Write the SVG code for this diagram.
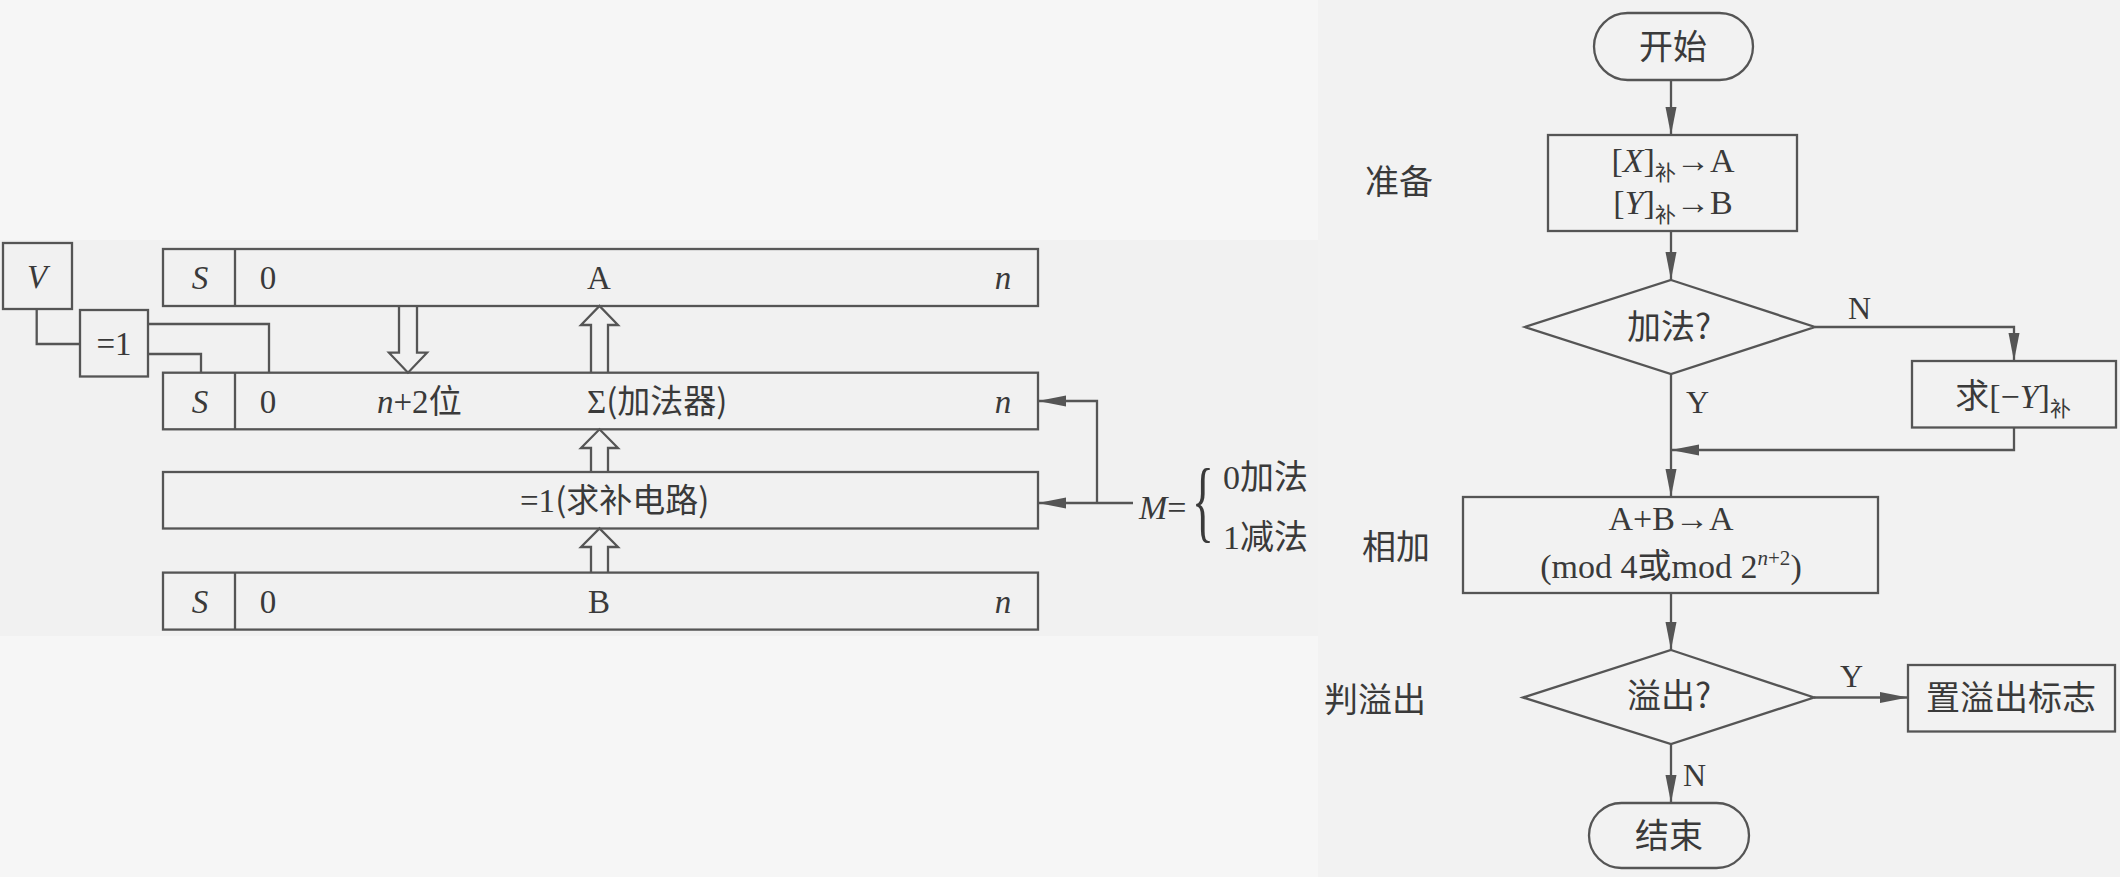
<svg xmlns="http://www.w3.org/2000/svg" width="2120" height="877" viewBox="0 0 2120 877">
<style>
.ln{fill:none;stroke:#555;stroke-width:2.3}
.bx{fill:none;stroke:#555;stroke-width:2.3}
.t{font-family:"Liberation Serif","Noto Sans CJK SC",serif;font-size:33px;fill:#3a3a3a}
.f{font-size:34px}
.c{font-family:"Noto Sans CJK SC","Liberation Sans",sans-serif;font-size:34px;fill:#3a3a3a}
.k{font-family:"Noto Sans CJK SC",sans-serif}
.i{font-style:italic}
.m{text-anchor:middle}
.sub{font-family:"Noto Sans CJK SC",sans-serif;font-size:21px}
.lb{font-size:32px}
</style>
<defs>
<marker id="ah" markerWidth="30" markerHeight="12" refX="28" refY="6" orient="auto" markerUnits="userSpaceOnUse">
<path d="M0,0.5 L28,6 L0,11.5 z" fill="#555"/>
</marker>
</defs>
<rect x="0" y="0" width="2120" height="877" fill="#f6f6f6"/>
<rect x="0" y="240" width="1318" height="396" fill="#f1f1f1"/>
<rect x="1318" y="0" width="802" height="877" fill="#f2f2f2"/>

<!-- left diagram -->
<g id="V">
<rect class="bx" x="3" y="243" width="69" height="66"/>
<text class="t i m" x="37" y="288">V</text>
</g>
<g id="xor">
<rect class="bx" x="80" y="310" width="68" height="66.5"/>
<text class="t m" x="114" y="355">=1</text>
</g>
<g id="regA">
<rect class="bx" x="163" y="249" width="875" height="57"/>
<line class="ln" x1="235" y1="249" x2="235" y2="306"/>
<text class="t i m" x="200" y="289">S</text>
<text class="t m" x="268" y="289">0</text>
<text class="t m" x="599" y="289">A</text>
<text class="t i m" x="1003" y="289">n</text>
</g>
<g id="adder">
<rect class="bx" x="163" y="372.7" width="875" height="56.6"/>
<line class="ln" x1="235" y1="372.7" x2="235" y2="429.3"/>
<text class="t i m" x="200" y="413">S</text>
<text class="t m" x="268" y="413">0</text>
<text class="t" x="377" y="413"><tspan class="i">n</tspan>+2<tspan class="k">位</tspan></text>
<text class="t" x="587" y="413">Σ<tspan class="k">(加法器)</tspan></text>
<text class="t i m" x="1003" y="413">n</text>
</g>
<g id="comp">
<rect class="bx" x="163" y="472" width="875" height="56.5"/>
<text class="t" x="520" y="512">=1<tspan class="k">(求补电路)</tspan></text>
</g>
<g id="regB">
<rect class="bx" x="163" y="572.6" width="875" height="57"/>
<line class="ln" x1="235" y1="572.6" x2="235" y2="629.6"/>
<text class="t i m" x="200" y="613">S</text>
<text class="t m" x="268" y="613">0</text>
<text class="t m" x="599" y="613">B</text>
<text class="t i m" x="1003" y="613">n</text>
</g>
<g id="Mlabel">
<text class="t f" x="1139" y="519"><tspan class="i">M</tspan>=</text>
<text class="t" transform="translate(1192,531) scale(0.5,1)" style="font-size:91px">{</text>
<text class="t f" x="1223" y="489">0<tspan class="k">加法</tspan></text>
<text class="t f" x="1223" y="549">1<tspan class="k">减法</tspan></text>
</g>

<!-- right flowchart -->
<g id="lbl1"><text class="c" x="1365" y="194">准备</text></g>
<g id="lbl2"><text class="c" x="1362" y="559">相加</text></g>
<g id="lbl3"><text class="c" x="1324" y="712">判溢出</text></g>
<g id="start">
<rect class="bx" x="1594" y="13" width="159" height="67" rx="33.5"/>
<text class="c m" x="1673" y="59">开始</text>
</g>
<g id="prep">
<rect class="bx" x="1548" y="135" width="249" height="96"/>
<text class="t f m" x="1673" y="172">[<tspan class="i">X</tspan>]<tspan class="sub" dy="8">补</tspan><tspan dy="-8">→A</tspan></text>
<text class="t f m" x="1673" y="214">[<tspan class="i">Y</tspan>]<tspan class="sub" dy="8">补</tspan><tspan dy="-8">→B</tspan></text>
</g>
<g id="isadd">
<polygon class="bx" points="1671,280 1815,327 1671,374 1525,327"/>
<text class="c m" x="1669" y="339">加法?</text>
</g>
<g id="neg">
<rect class="bx" x="1912" y="361" width="204" height="66.5"/>
<text class="t f m" x="2013" y="408"><tspan class="k">求</tspan>[−<tspan class="i">Y</tspan>]<tspan class="sub" dy="8">补</tspan></text>
</g>
<g id="add">
<rect class="bx" x="1463" y="497" width="415" height="96"/>
<text class="t f m" x="1671" y="530">A+B→A</text>
<text class="t f m" x="1671" y="578">(mod 4<tspan class="k">或</tspan>mod 2<tspan class="i" font-size="21" dy="-13">n</tspan><tspan font-size="21">+2</tspan><tspan dy="13">)</tspan></text>
</g>
<g id="isovf">
<polygon class="bx" points="1671,650 1814,697.5 1671,744 1523,697.5"/>
<text class="c m" x="1669" y="708">溢出?</text>
</g>
<g id="flag">
<rect class="bx" x="1908" y="665" width="207" height="66.5"/>
<text class="c m" x="2011" y="710">置溢出标志</text>
</g>
<g id="end">
<rect class="bx" x="1589" y="803" width="160" height="65" rx="32.5"/>
<text class="c m" x="1669" y="848">结束</text>
</g>

<g id="connectors">
<polyline class="ln" points="36.7,309 36.7,344 80,344"/>
<polyline class="ln" points="148,324 269,324 269,372.7"/>
<polyline class="ln" points="148,354 201,354 201,372.7"/>
<polyline class="ln" points="399,306 399,352.7 389,352.7 408,372.7 427,352.7 417,352.7 417,306"/>
<polyline class="ln" points="591,372.7 591,325 581,325 599.5,306 618,325 608,325 608,372.7"/>
<polyline class="ln" points="591,472 591,448 581,448 599.5,429.3 618,448 608,448 608,472"/>
<polyline class="ln" points="591,572.6 591,547 581,547 599.5,528.5 618,547 608,547 608,572.6"/>
<line class="ln" x1="1133" y1="503" x2="1038" y2="503" marker-end="url(#ah)"/>
<polyline class="ln" points="1097,503 1097,401 1038,401" marker-end="url(#ah)"/>

<line class="ln" x1="1671" y1="80" x2="1671" y2="135" marker-end="url(#ah)"/>
<line class="ln" x1="1671" y1="231" x2="1671" y2="280" marker-end="url(#ah)"/>
<polyline class="ln" points="1815,327 2014,327 2014,361" marker-end="url(#ah)"/>
<polyline class="ln" points="2014,427.5 2014,450 1671,450" marker-end="url(#ah)"/>
<line class="ln" x1="1671" y1="374" x2="1671" y2="497" marker-end="url(#ah)"/>
<line class="ln" x1="1671" y1="593" x2="1671" y2="650" marker-end="url(#ah)"/>
<line class="ln" x1="1814" y1="697.5" x2="1908" y2="697.5" marker-end="url(#ah)"/>
<line class="ln" x1="1671" y1="744" x2="1671" y2="803" marker-end="url(#ah)"/>
<text class="t lb" x="1848" y="319">N</text>
<text class="t lb" x="1686" y="413">Y</text>
<text class="t lb" x="1840" y="687">Y</text>
<text class="t lb" x="1683" y="786">N</text>
</g>
</svg>
